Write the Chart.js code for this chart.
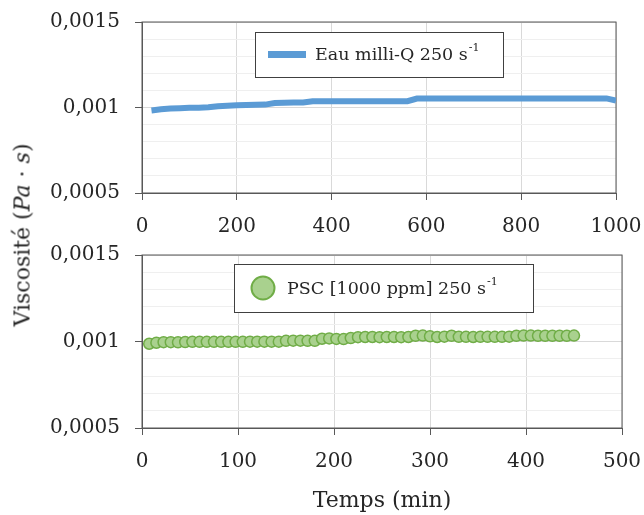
<!DOCTYPE html>
<html>
<head>
<meta charset="utf-8">
<script src="https://cdn.jsdelivr.net/npm/chart.js@4"></script>
<style>
  html, body { margin: 0; padding: 0; background: #fff; }
  #wrap { position: relative; width: 644px; height: 515px; overflow: hidden; }
  #topChart { position: absolute; left: 0; top: 0; }
  #botChart { position: absolute; left: 0; top: 230px; }
  #ytitle {
    position: absolute; left: 22px; top: 235px;
    transform: translate(-50%, -50%) rotate(-90deg);
    white-space: nowrap; font: 22px 'DejaVu Serif'; color: #262626;
  }
</style>
</head>
<body>
<div id="wrap">
  <canvas id="topChart" width="644" height="250"></canvas>
  <canvas id="botChart" width="644" height="285"></canvas>
  <div id="ytitle">Viscosité (<i>Pa</i> · <i>s</i>)</div>
</div>
<script>
// water, milli-Q, 250 s-1
const waterTime = [20, 40, 60, 80, 100, 120, 140, 160, 180, 200,
  220, 240, 260, 280, 300, 320, 340, 360, 380, 400,
  420, 440, 460, 480, 500, 520, 540, 560, 580, 600,
  620, 640, 660, 680, 700, 720, 740, 760, 780, 800,
  820, 840, 860, 880, 900, 920, 940, 960, 980, 1000];
const waterVisc = [0.000983, 0.000990, 0.000994, 0.000996, 0.000998, 0.000999, 0.001001, 0.001007, 0.001010, 0.001013,
  0.001015, 0.001016, 0.001017, 0.001026, 0.001028, 0.001029, 0.001029, 0.001036, 0.001037, 0.001037,
  0.001037, 0.001037, 0.001037, 0.001037, 0.001037, 0.001037, 0.001037, 0.001037, 0.001052, 0.001053,
  0.001053, 0.001053, 0.001053, 0.001053, 0.001053, 0.001053, 0.001053, 0.001053, 0.001053, 0.001053,
  0.001053, 0.001053, 0.001053, 0.001053, 0.001053, 0.001053, 0.001053, 0.001053, 0.001053, 0.001040];

// PSC 1000 ppm, 250 s-1
const pscTime = [7.5, 15, 22.5, 30, 37.5, 45, 52.5, 60, 67.5, 75,
  82.5, 90, 97.5, 105, 112.5, 120, 127.5, 135, 142.5, 150,
  157.5, 165, 172.5, 180, 187.5, 195, 202.5, 210, 217.5, 225,
  232.5, 240, 247.5, 255, 262.5, 270, 277.5, 285, 292.5, 300,
  307.5, 315, 322.5, 330, 337.5, 345, 352.5, 360, 367.5, 375,
  382.5, 390, 397.5, 405, 412.5, 420, 427.5, 435, 442.5, 450];
const pscVisc = [0.000987, 0.000993, 0.000996, 0.000996, 0.000995, 0.000997, 0.000998, 0.000998, 0.000998, 0.000998,
  0.000998, 0.000998, 0.000998, 0.000998, 0.000999, 0.000999, 0.000999, 0.000999, 0.000999, 0.001004,
  0.001005, 0.001005, 0.001004, 0.001004, 0.001016, 0.001018, 0.001015, 0.001014, 0.001020, 0.001025,
  0.001026, 0.001026, 0.001025, 0.001026, 0.001026, 0.001025, 0.001026, 0.001033, 0.001034, 0.001030,
  0.001026, 0.001028, 0.001033, 0.001027, 0.001027, 0.001026, 0.001027, 0.001027, 0.001027, 0.001027,
  0.001028, 0.001033, 0.001034, 0.001034, 0.001033, 0.001033, 0.001033, 0.001033, 0.001033, 0.001034];

const seriesNames = ['Eau milli-Q 250 s', 'PSC [1000 ppm] 250 s'];
const unitSup = '-1';
const yTickValues = [0.0005, 0.001, 0.0015];
const yTickLabels = ['0,0005', '0,001', '0,0015'];

const FONT = 'DejaVu Serif';
const TEXT = '#262626';
const AXIS = '#595959';

function isMajor(v) {
  return Math.round(v * 10000) % 5 === 0;
}

// legend drawn inside the plot, in a framed box
const boxLegend = {
  id: 'boxLegend',
  afterDraw(chart, args, o) {
    const ctx = chart.ctx;
    const ds = chart.data.datasets[0];
    const cy = o.y + o.h / 2;
    ctx.save();
    ctx.fillStyle = '#fff';
    ctx.fillRect(o.x, o.y, o.w, o.h);
    ctx.strokeStyle = '#404040';
    ctx.lineWidth = 1;
    ctx.strokeRect(o.x + 0.5, o.y + 0.5, o.w, o.h);
    if (o.marker === 'line') {
      ctx.strokeStyle = ds.borderColor;
      ctx.lineWidth = 7;
      ctx.beginPath();
      ctx.moveTo(o.mx - 19, cy);
      ctx.lineTo(o.mx + 19, cy);
      ctx.stroke();
    } else {
      ctx.fillStyle = ds.backgroundColor;
      ctx.strokeStyle = ds.borderColor;
      ctx.lineWidth = 2;
      ctx.beginPath();
      ctx.arc(o.mx, cy, 11.5, 0, Math.PI * 2);
      ctx.fill();
      ctx.stroke();
    }
    ctx.fillStyle = TEXT;
    ctx.textBaseline = 'middle';
    ctx.font = o.size + 'px "' + FONT + '"';
    ctx.fillText(o.text, o.tx, cy + 1);
    const w = ctx.measureText(o.text).width;
    ctx.font = '11px "' + FONT + '"';
    ctx.fillText(unitSup, o.tx + w + 1, cy - 6);
    ctx.restore();
  }
};

// frame round the plot area
const frame = {
  id: 'frame',
  beforeDatasetsDraw(chart) {
    const a = chart.chartArea;
    const ctx = chart.ctx;
    ctx.save();
    ctx.strokeStyle = AXIS;
    ctx.lineWidth = 1;
    ctx.strokeRect(a.left, a.top, a.right - a.left, a.bottom - a.top);
    ctx.restore();
  }
};

function yScale() {
  return {
    type: 'linear', min: 0.0005, max: 0.0015,
    afterFit: s => { s.width = 142; s.paddingTop = 0; s.paddingBottom = 0; },
    border: { color: AXIS },
    grid: {
      color: c => (c.tick && isMajor(c.tick.value)) ? '#d9d9d9' : '#efefef',
      tickColor: c => (c.tick && isMajor(c.tick.value)) ? AXIS : 'rgba(0,0,0,0)',
      tickLength: 7
    },
    ticks: {
      stepSize: 0.0001, autoSkip: false, padding: 15,
      color: TEXT, font: { family: FONT, size: 20 },
      callback: v => {
        const i = yTickValues.findIndex(t => Math.abs(t - v) < 1e-9);
        return i >= 0 ? yTickLabels[i] : '';
      }
    }
  };
}

function xScale(max, step, h) {
  return {
    type: 'linear', min: 0, max: max,
    afterFit: s => { s.height = h; s.paddingLeft = 0; s.paddingRight = 0; },
    border: { color: AXIS },
    grid: { color: '#d9d9d9', tickColor: AXIS, tickLength: 7 },
    ticks: {
      stepSize: step, padding: 15, maxRotation: 0,
      color: TEXT, font: { family: FONT, size: 20 },
      callback: v => String(v)
    }
  };
}

new Chart(document.getElementById('topChart'), {
  type: 'line',
  data: {
    datasets: [{
      label: seriesNames[0] + '⁻¹',
      data: waterTime.map((t, i) => ({ x: t, y: waterVisc[i] })),
      borderColor: '#5b9bd5',
      borderWidth: 6,
      pointRadius: 0,
      tension: 0,
      fill: false
    }]
  },
  options: {
    responsive: false,
    animation: false,
    layout: { padding: { top: 22, right: 28, left: 0, bottom: 0 } },
    scales: { x: xScale(1000, 200, 57), y: yScale() },
    plugins: {
      legend: { display: false },
      tooltip: { enabled: false },
      boxLegend: { x: 255, y: 32, w: 248, h: 45, marker: 'line', mx: 287, tx: 315, size: 17.5, text: seriesNames[0] }
    }
  },
  plugins: [frame, boxLegend]
});

const xb = xScale(500, 100, 87);
xb.title = { display: true, text: 'Temps (min)', color: TEXT, font: { family: FONT, size: 22 }, padding: { top: 0, bottom: 1 } };

new Chart(document.getElementById('botChart'), {
  type: 'scatter',
  data: {
    datasets: [{
      label: seriesNames[1] + '⁻¹',
      data: pscTime.map((t, i) => ({ x: t, y: pscVisc[i] })),
      backgroundColor: '#a9d18e',
      borderColor: '#70ad47',
      borderWidth: 1.5,
      pointRadius: 5.5
    }]
  },
  options: {
    responsive: false,
    animation: false,
    layout: { padding: { top: 25, right: 22, left: 0, bottom: 0 } },
    scales: { x: xb, y: yScale() },
    plugins: {
      legend: { display: false },
      tooltip: { enabled: false },
      boxLegend: { x: 234, y: 34, w: 299, h: 48, marker: 'circle', mx: 263, tx: 287, size: 17.5, text: seriesNames[1] }
    }
  },
  plugins: [frame, boxLegend]
});
</script>
</body>
</html>
